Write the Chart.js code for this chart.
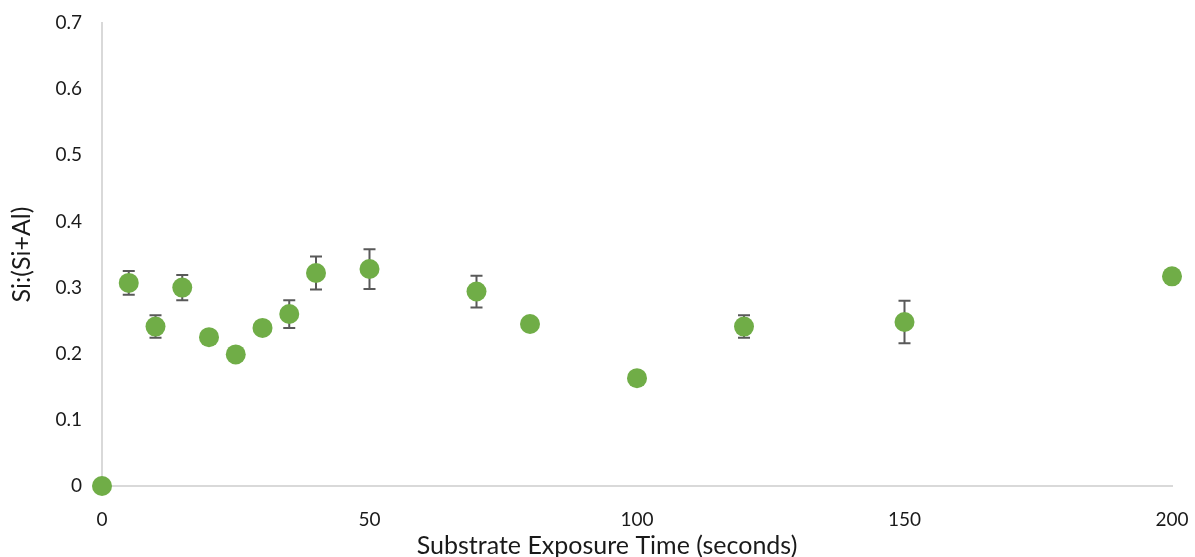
<!DOCTYPE html>
<html>
<head>
<meta charset="utf-8">
<script src="https://cdn.jsdelivr.net/npm/chart.js@4"></script>
<style>
  html, body { margin: 0; padding: 0; background: #fff; }
  #wrap { width: 1195px; height: 557px; }
</style>
</head>
<body>
<div id="wrap"><canvas id="siChart" width="1195" height="557"></canvas></div>
<script>
// exposure time (s), Si:(Si+Al) ratio and its +/- error
var exposureTimes = [0, 5, 10, 15, 20, 25, 30, 35, 40, 50, 70, 80, 100, 120, 150, 200];
var siRatio = [0, 0.307, 0.241, 0.300, 0.225, 0.199, 0.239, 0.260, 0.322, 0.328, 0.294, 0.245, 0.163, 0.241, 0.248, 0.317];
var siError = [0, 0.018, 0.017, 0.019, 0, 0, 0, 0.021, 0.025, 0.030, 0.024, 0, 0, 0.017, 0.032, 0];
var yTicks = [0, 0.1, 0.2, 0.3, 0.4, 0.5, 0.6, 0.7];

var textFont = "Lato, 'Open Sans', sans-serif";

// vertical error bars with caps, drawn under the markers
var errorBars = {
    id: 'errorBars',
    beforeDatasetsDraw: function (chart) {
        var ctx = chart.ctx;
        var xs = chart.scales.x, ys = chart.scales.y;
        ctx.save();
        ctx.strokeStyle = '#595959';
        ctx.lineWidth = 2;
        for (var i = 0; i < exposureTimes.length; i++) {
            if (!siError[i]) continue;
            var px = xs.getPixelForValue(exposureTimes[i]);
            var top = ys.getPixelForValue(siRatio[i] + siError[i]);
            var bot = ys.getPixelForValue(siRatio[i] - siError[i]);
            ctx.beginPath();
            ctx.moveTo(px, top); ctx.lineTo(px, bot);
            ctx.moveTo(px - 6, top); ctx.lineTo(px + 6, top);
            ctx.moveTo(px - 6, bot); ctx.lineTo(px + 6, bot);
            ctx.stroke();
        }
        ctx.restore();
    }
};

var points = exposureTimes.map(function (t, i) { return { x: t, y: siRatio[i] }; });

new Chart(document.getElementById('siChart').getContext('2d'), {
    type: 'scatter',
    data: {
        datasets: [{
            label: 'Si:(Si+Al)',
            data: points,
            backgroundColor: '#70ad47',
            borderWidth: 0,
            pointRadius: 10,
            pointHoverRadius: 10,
            clip: false
        }]
    },
    plugins: [errorBars],
    options: {
        responsive: false,
        animation: false,
        layout: { padding: { top: 23, right: 1, left: 20, bottom: 0 } },
        plugins: {
            legend: { display: false },
            tooltip: { enabled: false },
            // x axis title sits under the whole chart, not just the plot
            title: {
                display: true,
                position: 'bottom',
                text: 'Substrate Exposure Time (seconds)',
                color: '#1a1a1a',
                padding: { top: 0, bottom: -4 },
                font: { family: textFont, size: 25, weight: 'normal', lineHeight: 1.2 }
            }
        },
        scales: {
            x: {
                type: 'linear',
                min: 0, max: 200,
                afterFit: function (s) { s.height = 45; s.paddingLeft = 0; s.paddingRight = 23; },
                grid: { display: false, drawTicks: false },
                border: { display: true, color: '#d9d9d9', width: 2 },
                ticks: { stepSize: 50, padding: 22, color: '#1a1a1a', font: { family: textFont, size: 19 } }
            },
            y: {
                type: 'linear',
                min: 0, max: 0.7,
                afterFit: function (s) { s.width = 82; s.paddingTop = 0; s.paddingBottom = 0; },
                afterBuildTicks: function (s) { s.ticks = yTicks.map(function (v) { return { value: v }; }); },
                grid: { display: false, drawTicks: false },
                border: { display: true, color: '#d9d9d9', width: 2 },
                ticks: { padding: 20, color: '#1a1a1a', font: { family: textFont, size: 19 },
                         callback: function (v) { return String(Math.round(v * 10) / 10); } },
                title: { display: true, text: 'Si:(Si+Al)', color: '#1a1a1a',
                         padding: { top: -11, bottom: 0 }, font: { family: textFont, size: 25, lineHeight: 1 } }
            }
        }
    }
});
</script>
</body>
</html>
